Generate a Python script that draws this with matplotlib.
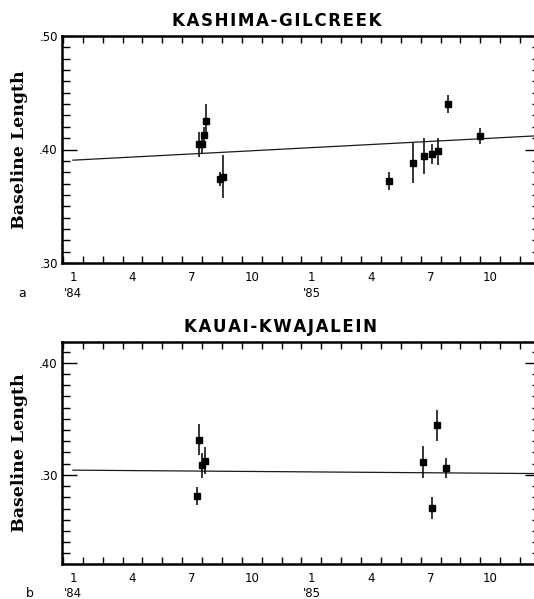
import matplotlib
matplotlib.use("Agg")
import matplotlib.pyplot as plt
from matplotlib.ticker import MultipleLocator, FixedLocator
import numpy as np

# Kashima-Gilcreek (panel a): months counted from Jan 1984 = 1
a_month = [7.34, 7.50, 7.57, 7.70, 8.40, 8.54, 16.91, 18.09, 18.64, 19.09, 19.36, 19.88, 21.50]
a_value = [0.4045, 0.4050, 0.4126, 0.4250, 0.3738, 0.3759, 0.3726, 0.3885, 0.3941, 0.3959, 0.3985, 0.4403, 0.4118]
a_error = [0.011, 0.008, 0.007, 0.015, 0.006, 0.019, 0.008, 0.0176, 0.016, 0.009, 0.012, 0.008, 0.007]
a_trend = (0.3906, 0.00092)  # value at month 1, slope per month

# Kauai-Kwajalein (panel b)
b_month = [7.26, 7.34, 7.50, 7.62, 18.61, 19.05, 19.34, 19.79]
b_value = [0.2810, 0.3315, 0.3086, 0.3125, 0.3116, 0.2705, 0.3443, 0.3062]
b_error = [0.008, 0.014, 0.011, 0.012, 0.014, 0.010, 0.0137, 0.009]
b_trend = (0.3042, -0.00013)

month_ticks = [1, 4, 7, 10, 13, 16, 19, 22]
month_labels = ["1", "4", "7", "10", "1", "4", "7", "10"]
year_ticks = [1, 13]
year_labels = ["'84", "'85"]

W, H = 534, 599
fig = plt.figure(figsize=(W / 100, H / 100), dpi=100)


def panel(top_px, bot_px, months, vals, errs, trend, ylim, ylabels, title,
          title_x, letter, letter_x):
    ax = fig.add_axes([62 / W, (H - bot_px) / H, (540 - 62) / W, (bot_px - top_px) / H])
    ax.errorbar(months, vals, yerr=errs, fmt="s", color="black", ms=5,
                elinewidth=1.1, capsize=0, zorder=3)
    tx = np.array([1, 24.6])
    ax.plot(tx, trend[0] + trend[1] * (tx - 1), color="#1a1a1a", lw=0.9, zorder=2)

    ax.set_xlim(0.45, 24.5)
    ax.set_ylim(*ylim)
    ax.xaxis.set_major_locator(FixedLocator(month_ticks))
    ax.set_xticklabels(month_labels)
    ax.xaxis.set_minor_locator(FixedLocator(np.arange(0.5, 25, 1.0)))
    ax.yaxis.set_major_locator(FixedLocator(ylabels))
    ax.set_yticklabels(["." + f"{v:.2f}".split(".")[1] for v in ylabels])
    ax.yaxis.set_minor_locator(MultipleLocator(0.01))

    ax.tick_params(axis="x", which="major", length=0, pad=6, labelsize=8.5)
    ax.tick_params(axis="x", which="minor", direction="in", length=5, width=1,
                   top=True, bottom=True)
    ax.tick_params(axis="y", which="major", direction="in", length=11, width=1,
                   left=True, right=True, pad=3, labelsize=8.5)
    ax.tick_params(axis="y", which="minor", direction="in", length=6, width=1,
                   left=True, right=True)
    for s in ax.spines.values():
        s.set_linewidth(1.8)

    ax.set_ylabel("Baseline Length", family="DejaVu Serif", fontweight="bold",
                  fontsize=12.5, labelpad=8)
    ax.set_title("\u200a".join(title), fontweight="bold", fontsize=12, pad=7,
                 x=title_x)

    trans = ax.get_xaxis_transform()
    for x, lab in zip(year_ticks, year_labels):
        ax.text(x, -0.135, lab, transform=trans, ha="center", va="center", fontsize=8.5)
    ax.text(letter_x, -0.135, letter, transform=ax.transAxes, ha="center",
            va="center", fontsize=9)
    return ax


panel(36, 263, a_month, a_value, a_error, a_trend, (0.30, 0.50),
      [0.30, 0.40, 0.50], "KASHIMA-GILCREEK", 0.45, "a", -0.083)
panel(342, 564, b_month, b_value, b_error, b_trend, (0.2205, 0.4185),
      [0.30, 0.40], "KAUAI-KWAJALEIN", 0.458, "b", -0.068)

fig.savefig("out.png", dpi=100)
